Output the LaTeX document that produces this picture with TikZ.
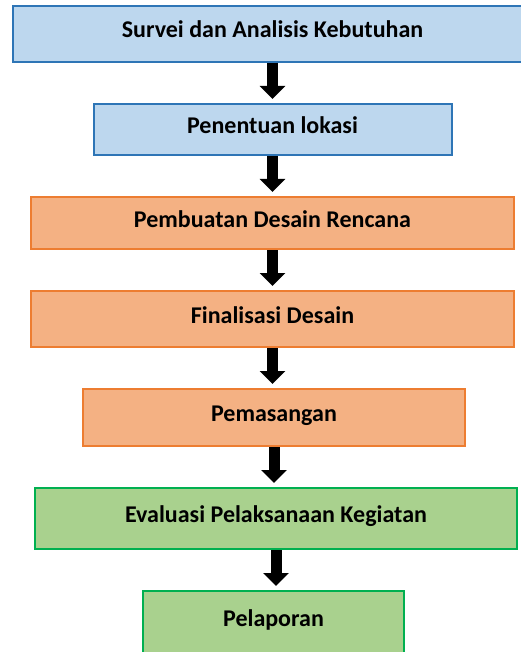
\documentclass[tikz,border=0pt]{standalone}
\usepackage{fontspec}
\setmainfont{Carlito}
\usetikzlibrary{positioning,arrows.meta}
\definecolor{planfill}{HTML}{BDD7EE}
\definecolor{planline}{HTML}{2E75B6}
\definecolor{buildfill}{HTML}{F4B183}
\definecolor{buildline}{HTML}{ED7D31}
\definecolor{closefill}{HTML}{A9D18E}
\definecolor{closeline}{HTML}{00B050}
\tikzstyle{flow steps}=[
    node distance=40pt,
    every node/.style={
        draw, line width=2pt, inner sep=0pt,
        text height=12pt, text depth=4pt,
        font=\fontsize{24}{28}\selectfont\bfseries,
}]
\tikzstyle{plan step}=[fill=planfill, draw=planline]
\tikzstyle{build step}=[fill=buildfill, draw=buildline]
\tikzstyle{close step}=[fill=closefill, draw=closeline]
\tikzstyle{step arrow}=[line width=11pt, -{Triangle[width=25pt,length=13pt]}, shorten >=4pt]
\newcommand{\nextstep}[2]{\draw[step arrow] (#1.south) -- (#1.south |- #2.north);}

\begin{document}
\begin{tikzpicture}[flow steps]
        \useasboundingbox (0,0) rectangle (520pt,-652pt);
        \node[plan step, minimum width=519pt, minimum height=56pt] (survei) at (272.5pt,-34pt) {Survei dan Analisis Kebutuhan};
        \node[plan step, minimum width=358pt, minimum height=51pt, below=of survei] (lokasi) {Penentuan lokasi};
        \node[build step, minimum width=483pt, minimum height=52pt, below=of lokasi] (rencana) {Pembuatan Desain Rencana};
        \node[build step, minimum width=483pt, minimum height=56pt, below=of rencana] (finalisasi) {Finalisasi Desain};
        \node[build step, minimum width=382pt, minimum height=57pt, below=of finalisasi, xshift=1.5pt] (pemasangan) {Pemasangan};
        \node[close step, minimum width=482pt, minimum height=61pt, below=of pemasangan, xshift=2pt] (evaluasi) {Evaluasi Pelaksanaan Kegiatan};
        \node[close step, minimum width=261pt, minimum height=62pt, below=of evaluasi, xshift=-2.5pt] (pelaporan) {Pelaporan};

        \nextstep{survei}{lokasi}
        \nextstep{lokasi}{rencana}
        \nextstep{rencana}{finalisasi}
        \nextstep{finalisasi}{pemasangan}
        \nextstep{pemasangan}{evaluasi}
        \nextstep{evaluasi}{pelaporan}
    \end{tikzpicture}
\end{document}
